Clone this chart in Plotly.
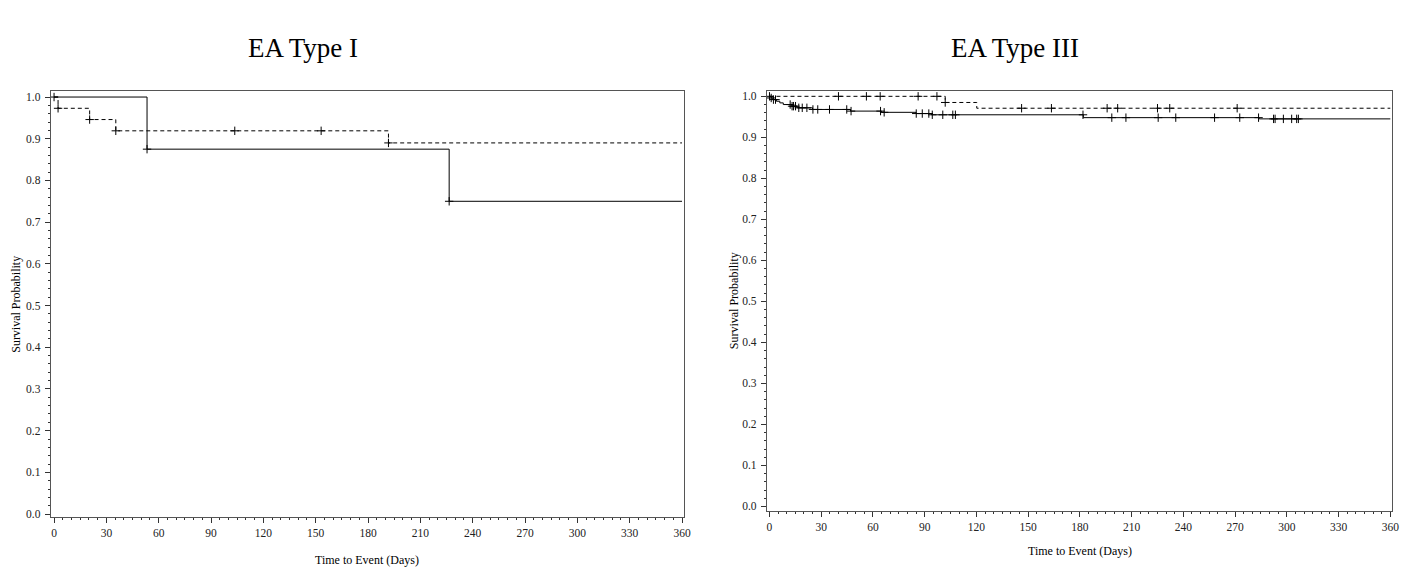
import plotly.graph_objects as go

# ---------------- data ----------------
# EA Type I
left_solid_t = [0, 53.3, 226.5, 360]
left_solid_s = [1.0, 0.875, 0.75, 0.75]
left_solid_censor = [0, 53.3, 226.5]

left_dash_t = [0, 2.3, 20.4, 35.4, 191.7, 360]
left_dash_s = [1.0, 0.973, 0.946, 0.919, 0.89, 0.89]
left_dash_censor = [2.3, 20.4, 35.4, 103.6, 153.1, 191.7]

# EA Type III
right_solid_t = [0, 1, 2, 4, 6, 8, 13, 16, 25, 47, 65, 85, 94, 182, 284, 360]
right_solid_s = [1.0, 0.996, 0.992, 0.988, 0.984, 0.980, 0.976, 0.972, 0.968,
                 0.964, 0.961, 0.958, 0.955, 0.948, 0.945, 0.945]
right_solid_censor = [0, 1.0, 2.3, 3.5, 12, 13.1, 13.9, 15.1, 17, 19, 21.7, 25.2,
                      28, 34.8, 44.8, 47.3, 64.4, 66.5, 85.1, 88.6, 92.4, 94.4,
                      100.5, 106.3, 107.8, 181.8, 198.5, 206.7, 225.4, 235.6,
                      258.1, 272.7, 283.6, 292.3, 293.2, 298, 302.8, 305.7, 306.7]

right_dash_t = [0, 101.9, 120.2, 360]
right_dash_s = [1.0, 0.985, 0.971, 0.971]
right_dash_censor = [40, 56.2, 64.2, 86.2, 97.1, 101.9, 146.2, 163.5, 195.8,
                     201.9, 225, 232.1, 271.2]

x_ticks = [0, 30, 60, 90, 120, 150, 180, 210, 240, 270, 300, 330, 360]
y_ticks = [0.0, 0.1, 0.2, 0.3, 0.4, 0.5, 0.6, 0.7, 0.8, 0.9, 1.0]
titles = ["EA Type I", "EA Type III"]
x_title = "Time to Event (Days)"
y_title = "Survival Probability"


def step_value(ts, ss, t):
    v = ss[0]
    for ti, si in zip(ts, ss):
        if ti <= t:
            v = si
    return v


W, H = 1415, 574
SERIF = "Liberation Serif, Times New Roman, serif"
FRAME = "#555555"

fig = go.Figure()


def add_group(ts, ss, cens, dash, xa, ya):
    fig.add_trace(go.Scatter(x=ts, y=ss, mode="lines", line_shape="hv",
                             line=dict(color="black", width=1, dash=dash),
                             xaxis=xa, yaxis=ya, showlegend=False,
                             hoverinfo="skip"))
    fig.add_trace(go.Scatter(x=cens, y=[step_value(ts, ss, c) for c in cens],
                             mode="markers",
                             marker=dict(symbol="cross-thin", size=6,
                                         line=dict(color="black", width=1)),
                             xaxis=xa, yaxis=ya, showlegend=False,
                             hoverinfo="skip"))


add_group(left_solid_t, left_solid_s, left_solid_censor, "solid", "x", "y")
add_group(left_dash_t, left_dash_s, left_dash_censor, "4px,3px", "x", "y")
add_group(right_solid_t, right_solid_s, right_solid_censor, "solid", "x2", "y2")
add_group(right_dash_t, right_dash_s, right_dash_censor, "4px,3px", "x2", "y2")


def px_x(p):
    return p / W


def px_y(p):
    return 1 - p / H


def xaxis_cfg(d0, d1, r0, r1, anchor):
    return dict(domain=[px_x(d0), px_x(d1)], range=[r0, r1], anchor=anchor,
                tickmode="array", tickvals=x_ticks,
                ticktext=[str(v) for v in x_ticks],
                ticks="outside", ticklen=5, tickcolor="#333", tickwidth=1,
                minor=dict(dtick=5, tick0=0, ticks="outside", ticklen=2,
                           tickcolor="#333"),
                showline=True, linecolor=FRAME, linewidth=1, mirror=True,
                showgrid=False, zeroline=False,
                tickfont=dict(family=SERIF, size=11.5, color="#222"),
                ticklabelstandoff=0)


def yaxis_cfg(d0, d1, r0, r1, anchor):
    return dict(domain=[px_y(d1), px_y(d0)], range=[r0, r1], anchor=anchor,
                tickmode="array", tickvals=y_ticks,
                ticktext=[f"{v:.1f}" for v in y_ticks],
                ticks="outside", ticklen=5, tickcolor="#333", tickwidth=1,
                minor=dict(dtick=0.02, tick0=0, ticks="outside", ticklen=2,
                           tickcolor="#333"),
                showline=True, linecolor=FRAME, linewidth=1, mirror=True,
                showgrid=False, zeroline=False,
                tickfont=dict(family=SERIF, size=11.5, color="#222"),
                ticklabelstandoff=2)


fig.update_layout(
    width=W, height=H,
    margin=dict(l=0, r=0, t=0, b=0),
    paper_bgcolor="white", plot_bgcolor="white",
    xaxis=xaxis_cfg(51, 687, -1.9, 360.9, "y"),
    yaxis=yaxis_cfg(91, 520, -0.0079, 1.0136, "x"),
    xaxis2=xaxis_cfg(770.7, 1399.3, -1.5, 361.2, "y2"),
    yaxis2=yaxis_cfg(91, 513.3, -0.0104, 1.0121, "x2"),
)

ann = [
    dict(text=titles[0], x=px_x(305), y=px_y(47), size=27),
    dict(text=titles[1], x=px_x(1020), y=px_y(47), size=27),
    dict(text=x_title, x=px_x(369), y=px_y(563), size=12),
    dict(text=x_title, x=px_x(1085), y=px_y(554), size=12),
]
for a in ann:
    fig.add_annotation(text=a["text"], x=a["x"], y=a["y"], xref="paper",
                       yref="paper", showarrow=False, xanchor="center",
                       yanchor="middle",
                       font=dict(family=SERIF, size=a["size"], color="black"))
for xc, yc in [(16, 305), (738, 302)]:
    fig.add_annotation(text=y_title, x=px_x(xc), y=px_y(yc), xref="paper",
                       yref="paper", showarrow=False, textangle=-90,
                       xanchor="center", yanchor="middle",
                       font=dict(family=SERIF, size=12, color="black"))

fig.write_html(
    "out.html",
    config={"displayModeBar": False},
    post_script="document.body.style.margin='0';"
                "document.body.style.overflow='hidden';",
)
